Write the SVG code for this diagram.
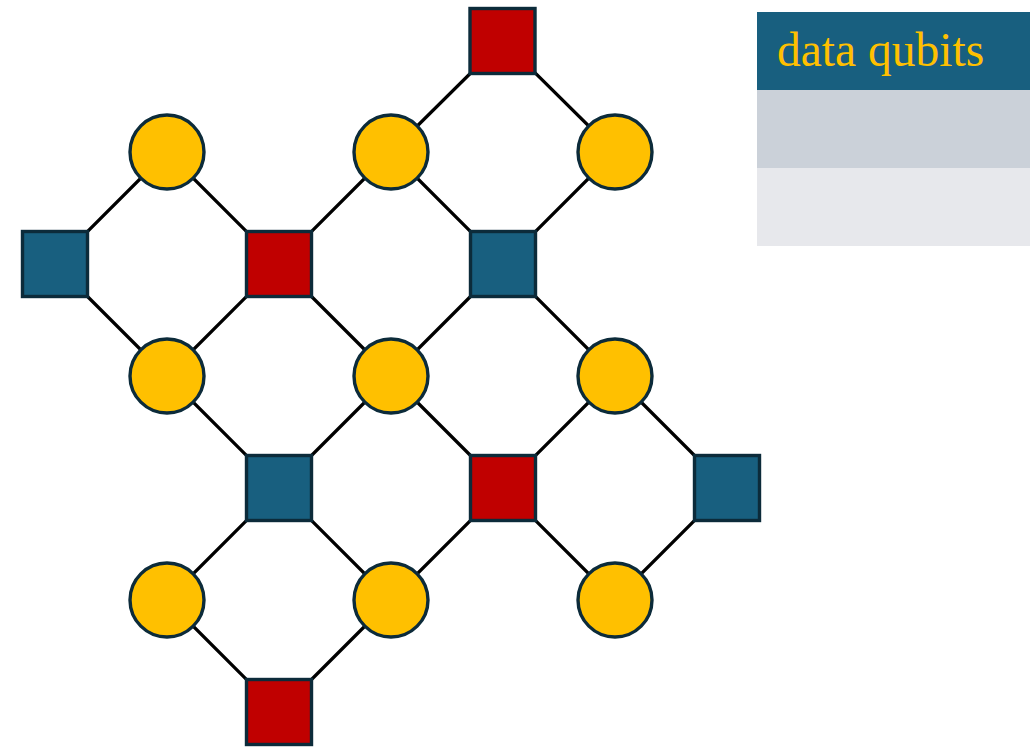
<svg xmlns="http://www.w3.org/2000/svg" width="1030" height="747" viewBox="0 0 1030 747">
<style>
.e{stroke:#000;stroke-width:3.2;fill:none}
.d{fill:#FFC000;stroke:#0C2B3A;stroke-width:3.4}
.x{fill:#C00000;stroke:#0C2B3A;stroke-width:3.4}
.z{fill:#185F7F;stroke:#0C2B3A;stroke-width:3.4}
.lt{font-family:"Liberation Serif",serif;font-size:47.5px;fill:#FFC000}
</style>
<rect width="1030" height="747" fill="#fff"/>
<g id="connectors">
<path class="e" d="M55,264L167,152M55,264L167,376"/>
<path class="e" d="M279,264L167,152M279,264L391,152M279,264L167,376M279,264L391,376"/>
<path class="e" d="M503,41L391,152M503,41L615,152"/>
<path class="e" d="M503,264L391,152M503,264L615,152M503,264L391,376M503,264L615,376"/>
<path class="e" d="M279,488L167,376M279,488L391,376M279,488L167,600M279,488L391,600"/>
<path class="e" d="M503,488L391,376M503,488L615,376M503,488L391,600M503,488L615,600"/>
<path class="e" d="M727,488L615,376M727,488L615,600"/>
<path class="e" d="M279,712L167,600M279,712L391,600"/>
</g>
<g id="q1"><circle class="d" cx="167" cy="152" r="37"/></g>
<g id="q2"><circle class="d" cx="391" cy="152" r="37"/></g>
<g id="q3"><circle class="d" cx="615" cy="152" r="37"/></g>
<g id="q4"><circle class="d" cx="167" cy="376" r="37"/></g>
<g id="q5"><circle class="d" cx="391" cy="376" r="37"/></g>
<g id="q6"><circle class="d" cx="615" cy="376" r="37"/></g>
<g id="q7"><circle class="d" cx="167" cy="600" r="37"/></g>
<g id="q8"><circle class="d" cx="391" cy="600" r="37"/></g>
<g id="q9"><circle class="d" cx="615" cy="600" r="37"/></g>
<g id="s1"><rect class="x" x="470" y="8.5" width="65" height="65"/></g>
<g id="s2"><rect class="z" x="22.5" y="231.5" width="65" height="65"/></g>
<g id="s3"><rect class="x" x="246.5" y="231.5" width="65" height="65"/></g>
<g id="s4"><rect class="z" x="470.5" y="231.5" width="65" height="65"/></g>
<g id="s5"><rect class="z" x="246.5" y="455.5" width="65" height="65"/></g>
<g id="s6"><rect class="x" x="470.5" y="455.5" width="65" height="65"/></g>
<g id="s7"><rect class="z" x="694.5" y="455.5" width="65" height="65"/></g>
<g id="s8"><rect class="x" x="246.5" y="679.5" width="65" height="65"/></g>
<g id="legend">
<rect x="757" y="12" width="273" height="78" fill="#185F7F"/>
<rect x="757" y="90" width="273" height="78" fill="#CBD1D9"/>
<rect x="757" y="168" width="273" height="78" fill="#E7E8EC"/>
<text class="lt" x="777" y="66">data qubits</text>
</g>
</svg>
